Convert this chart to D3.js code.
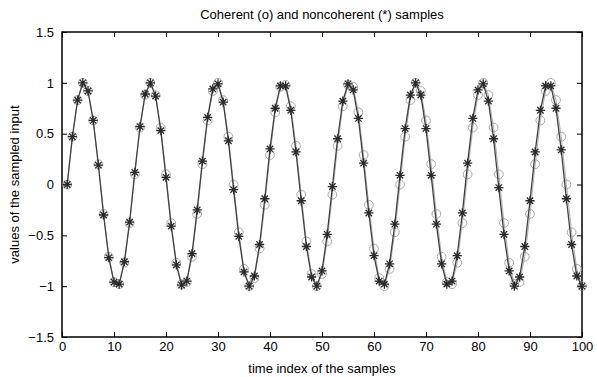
<!DOCTYPE html>
<html>
<head>
<meta charset="utf-8">
<script src="https://cdn.jsdelivr.net/npm/d3@7"></script>
<style>
  body { margin: 0; background: #fff; }
  svg text { font-family: "Liberation Sans", Arial, sans-serif; }
</style>
</head>
<body>
<div id="chart"></div>
<script>
// Sizes
const width = 597;
const height = 377;
const margin = {top: 32, right: 15, bottom: 40, left: 62};
const innerW = width - margin.left - margin.right;
const innerH = height - margin.top - margin.bottom;

// Data
const sampleIndex = d3.range(1, 101);
const coherent = [
  0, 0.47, 0.83, 1.00, 0.92, 0.63, 0.20, -0.29, -0.71, -0.96,
  -0.98, -0.77, -0.38, 0.10, 0.56, 0.88, 1.00, 0.88, 0.56, 0.10,
  -0.38, -0.77, -0.98, -0.96, -0.71, -0.29, 0.20, 0.63, 0.92, 1.00,
  0.83, 0.47, 0, -0.47, -0.83, -1.00, -0.92, -0.63, -0.20, 0.29,
  0.71, 0.96, 0.98, 0.77, 0.38, -0.10, -0.56, -0.88, -1.00, -0.88,
  -0.56, -0.10, 0.38, 0.77, 0.98, 0.96, 0.71, 0.29, -0.20, -0.63,
  -0.92, -1.00, -0.83, -0.47, 0, 0.47, 0.83, 1.00, 0.92, 0.63,
  0.20, -0.29, -0.71, -0.96, -0.98, -0.77, -0.38, 0.10, 0.56, 0.88,
  1.00, 0.88, 0.56, 0.10, -0.38, -0.77, -0.98, -0.96, -0.71, -0.29,
  0.20, 0.63, 0.92, 1.00, 0.83, 0.47, 0, -0.47, -0.83, -1.00
];
const noncoherent = [
  0, 0.47, 0.83, 1.00, 0.92, 0.63, 0.19, -0.30, -0.72, -0.96,
  -0.98, -0.76, -0.37, 0.12, 0.57, 0.89, 1.00, 0.87, 0.53, 0.07,
  -0.41, -0.79, -0.99, -0.95, -0.68, -0.25, 0.23, 0.66, 0.94, 0.99,
  0.81, 0.43, -0.05, -0.51, -0.86, -1.00, -0.90, -0.59, -0.14, 0.35,
  0.75, 0.97, 0.97, 0.73, 0.32, -0.16, -0.61, -0.91, -1.00, -0.85,
  -0.49, -0.02, 0.45, 0.82, 0.99, 0.93, 0.65, 0.21, -0.28, -0.70,
  -0.95, -0.98, -0.78, -0.39, 0.09, 0.55, 0.88, 1.00, 0.88, 0.55,
  0.09, -0.39, -0.78, -0.98, -0.95, -0.70, -0.28, 0.21, 0.65, 0.93,
  0.99, 0.82, 0.45, -0.03, -0.49, -0.85, -1.00, -0.91, -0.61, -0.16,
  0.32, 0.73, 0.97, 0.97, 0.75, 0.34, -0.14, -0.59, -0.90, -1.00
];
const xTicks = [0, 10, 20, 30, 40, 50, 60, 70, 80, 90, 100];
const yTicks = [-1.5, -1, -0.5, 0, 0.5, 1, 1.5];

const svg = d3.select("#chart")
  .append("svg")
  .attr("width", width)
  .attr("height", height);

const g = svg.append("g")
  .attr("transform", "translate(" + margin.left + "," + margin.top + ")");

// Scales
const x = d3.scaleLinear().domain([0, 100]).range([0, innerW]);
const y = d3.scaleLinear().domain([-1.5, 1.5]).range([innerH, 0]);

// Axes, ticks pointing inwards on all four sides
function styleAxis(sel) {
  sel.selectAll("path").remove();
  sel.selectAll("line").attr("stroke", "#000");
  sel.selectAll("text").attr("font-size", 13).attr("fill", "#000");
}

g.append("g")
  .attr("transform", "translate(0," + innerH + ")")
  .call(d3.axisBottom(x).tickValues(xTicks).tickSizeInner(-5).tickSizeOuter(0).tickPadding(5))
  .call(styleAxis);

g.append("g")
  .call(d3.axisTop(x).tickValues(xTicks).tickSizeInner(-5).tickSizeOuter(0).tickFormat(""))
  .call(styleAxis);

g.append("g")
  .call(d3.axisLeft(y).tickValues(yTicks).tickSizeInner(-5).tickSizeOuter(0).tickPadding(8).tickFormat(d3.format("")))
  .call(styleAxis);

g.append("g")
  .attr("transform", "translate(" + innerW + ",0)")
  .call(d3.axisRight(y).tickValues(yTicks).tickSizeInner(-5).tickSizeOuter(0).tickFormat(""))
  .call(styleAxis);

// Box
g.append("rect")
  .attr("width", innerW)
  .attr("height", innerH)
  .attr("fill", "none")
  .attr("stroke", "#000")
  .attr("stroke-width", 1.5);

// Lines
const line = d3.line()
  .x((d, i) => x(sampleIndex[i]))
  .y(d => y(d));

g.append("path")
  .datum(coherent)
  .attr("d", line)
  .attr("fill", "none")
  .attr("stroke", "#b0b0b0")
  .attr("stroke-width", 1);

// Coherent samples (o)
g.append("g")
  .selectAll("circle")
  .data(coherent).enter()
  .append("circle")
  .attr("cx", (d, i) => x(sampleIndex[i]))
  .attr("cy", d => y(d))
  .attr("r", 4.4)
  .attr("fill", "none")
  .attr("stroke", "#a8a8a8")
  .attr("stroke-width", 1);

g.append("path")
  .datum(noncoherent)
  .attr("d", line)
  .attr("fill", "none")
  .attr("stroke", "#404040")
  .attr("stroke-width", 1.3);

// Noncoherent samples (*)
const s = 4.6, sd = 3.2;
const star = "M" + (-s) + ",0H" + s + "M0," + (-s) + "V" + s +
  "M" + (-sd) + "," + (-sd) + "L" + sd + "," + sd +
  "M" + (-sd) + "," + sd + "L" + sd + "," + (-sd);

g.append("g")
  .selectAll("path")
  .data(noncoherent).enter()
  .append("path")
  .attr("transform", (d, i) => "translate(" + x(sampleIndex[i]) + "," + y(d) + ")")
  .attr("d", star)
  .attr("fill", "none")
  .attr("stroke", "#2a2a2a")
  .attr("stroke-width", 1.3);

// Texts
svg.append("text")
  .attr("x", margin.left + innerW / 2)
  .attr("y", 19)
  .attr("text-anchor", "middle")
  .attr("font-size", 13)
  .text("Coherent (o) and noncoherent (*) samples");

svg.append("text")
  .attr("x", margin.left + innerW / 2)
  .attr("y", 373)
  .attr("text-anchor", "middle")
  .attr("font-size", 13)
  .text("time index of the samples");

svg.append("text")
  .attr("transform", "translate(19," + (margin.top + innerH / 2) + ") rotate(-90)")
  .attr("text-anchor", "middle")
  .attr("font-size", 13)
  .text("values of the sampled input");
</script>
</body>
</html>
